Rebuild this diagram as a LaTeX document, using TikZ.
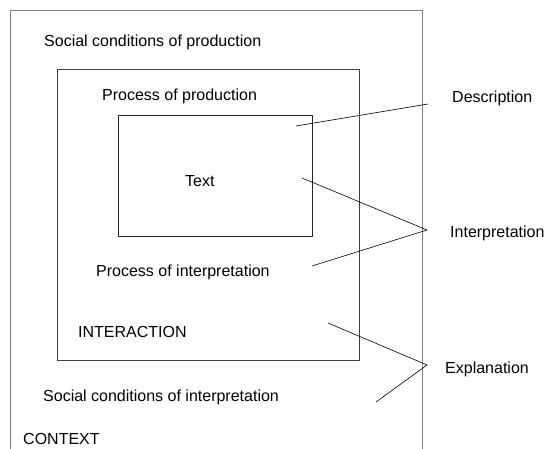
\documentclass[tikz,border=0pt]{standalone}
\usepackage{fontspec}
\setmainfont{Liberation Sans}
\usepackage{tikz}

\begin{document}
\begin{tikzpicture}[x=1bp, y=-1bp,
    lbl/.style={anchor=base west, inner sep=0pt, font=\fontsize{16bp}{19bp}\selectfont},
    pointer/.style={black, line width=0.6bp}]
  \useasboundingbox (0,0) rectangle (547,449);
  % context, interaction and text frames
  \draw[black!50, line width=1bp] (10,449) -- (10,11) -- (422,11) -- (422,449);
  \draw[black!75, line width=0.8bp] (57,69) rectangle (359,360);
  \draw[black!85, line width=0.8bp] (118,115) rectangle (312,236);

  \node[lbl] at (44,47) (socprod) {Social conditions of production};
  \node[lbl] at (102,101) (procprod) {Process of production};
  \node[lbl] at (185,187) (text) {Text};
  \node[lbl] at (96,276) (procint) {Process of interpretation};
  \node[lbl] at (78,337) (interaction) {INTERACTION};
  \node[lbl] at (43,401) (socint) {Social conditions of interpretation};
  \node[lbl] at (23,444) (context) {CONTEXT};

  \node[lbl] at (452,103) (descr) {Description};
  \node[lbl] at (450,238) (interp) {Interpretation};
  \node[lbl] at (445,373) (expl) {Explanation};

  % pointer ends
  \coordinate (descA) at (296,126);
  \coordinate (descJ) at (428,104);
  \coordinate (intA) at (302,178);
  \coordinate (intB) at (312,266);
  \coordinate (intJ) at (427,230);
  \coordinate (explA) at (328,323);
  \coordinate (explB) at (376,402);
  \coordinate (explJ) at (427,365);

  \draw[pointer] (descA) -- (descJ);
  \draw[pointer] (intA) -- (intJ) -- (intB);
  \draw[pointer] (explA) -- (explJ) -- (explB);
\end{tikzpicture}
\end{document}
